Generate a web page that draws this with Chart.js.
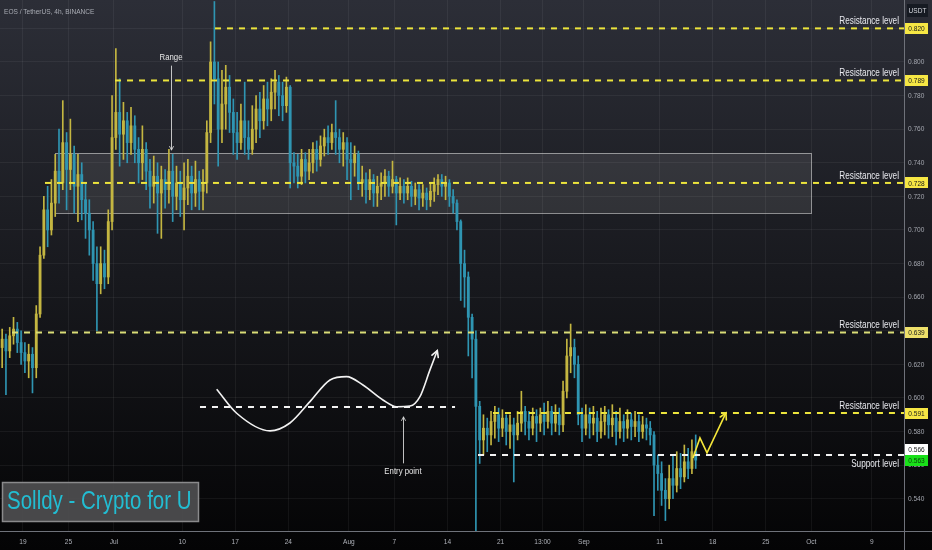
<!DOCTYPE html>
<html>
<head>
<meta charset="utf-8">
<script src="https://cdn.jsdelivr.net/npm/chart.js@4.4.0/dist/chart.umd.min.js"></script>
<style>
html, body { margin: 0; padding: 0; background: #000; overflow: hidden; }
canvas { display: block; }
</style>
</head>
<body>
<canvas id="meuGrafico" width="932" height="550"></canvas>
<script>
// Velas de 12h, dia 0 = 19 Jun
const inicioDia = -3;
const passoDia = 0.5;
const aberturaInicial = 0.630;

const fechamentos = [
  0.635,0.628,0.637,0.641,0.633,0.627,0.622,0.626,0.618,0.650,
  0.685,0.712,0.700,0.716,0.735,0.728,0.752,0.736,0.745,0.726,
  0.733,0.718,0.710,0.700,0.680,0.668,0.680,0.672,0.705,0.755,
  0.770,0.757,0.765,0.752,0.762,0.748,0.740,0.748,0.735,0.726,
  0.732,0.722,0.730,0.724,0.735,0.720,0.728,0.718,0.725,0.732,
  0.722,0.730,0.723,0.728,0.758,0.800,0.790,0.760,0.775,0.785,
  0.770,0.758,0.752,0.765,0.755,0.748,0.760,0.772,0.765,0.778,
  0.772,0.782,0.788,0.780,0.774,0.785,0.740,0.738,0.732,0.742,
  0.735,0.740,0.748,0.742,0.750,0.755,0.752,0.758,0.755,0.748,
  0.752,0.742,0.740,0.745,0.728,0.730,0.724,0.730,0.722,0.726,
  0.728,0.732,0.726,0.730,0.722,0.726,0.722,0.726,0.720,0.724,
  0.719,0.722,0.718,0.723,0.727,0.730,0.726,0.728,0.720,0.716,
  0.705,0.680,0.672,0.648,0.635,0.595,0.575,0.582,0.578,0.586,
  0.590,0.582,0.588,0.580,0.584,0.578,0.585,0.592,0.586,0.582,
  0.589,0.585,0.590,0.586,0.592,0.585,0.590,0.584,0.604,0.625,
  0.630,0.620,0.590,0.582,0.590,0.585,0.588,0.580,0.586,0.590,
  0.584,0.588,0.580,0.586,0.582,0.587,0.583,0.586,0.580,0.584,
  0.582,0.578,0.560,0.555,0.545,0.540,0.552,0.548,0.558,0.553,
  0.562,0.558,0.568,0.563
];
const maximas = [
  0.641,0.638,0.642,0.648,0.645,0.640,0.633,0.632,0.630,0.655,
  0.690,0.720,0.726,0.730,0.745,0.760,0.777,0.758,0.766,0.750,
  0.745,0.740,0.728,0.718,0.705,0.690,0.690,0.688,0.712,0.780,
  0.808,0.790,0.776,0.770,0.773,0.768,0.755,0.762,0.752,0.742,
  0.744,0.740,0.738,0.736,0.748,0.745,0.738,0.735,0.740,0.742,
  0.738,0.741,0.735,0.736,0.765,0.812,0.836,0.800,0.795,0.798,
  0.792,0.778,0.770,0.775,0.788,0.765,0.774,0.780,0.782,0.786,
  0.788,0.790,0.795,0.792,0.788,0.791,0.786,0.746,0.745,0.748,
  0.746,0.748,0.752,0.753,0.756,0.760,0.762,0.763,0.777,0.760,
  0.758,0.755,0.752,0.750,0.747,0.738,0.734,0.736,0.733,0.732,
  0.734,0.736,0.735,0.741,0.732,0.731,0.730,0.731,0.729,0.728,
  0.727,0.727,0.725,0.728,0.731,0.733,0.733,0.732,0.730,0.724,
  0.718,0.706,0.688,0.675,0.650,0.640,0.598,0.590,0.588,0.592,
  0.595,0.594,0.593,0.590,0.590,0.588,0.592,0.604,0.595,0.592,
  0.594,0.593,0.594,0.597,0.598,0.595,0.596,0.594,0.610,0.635,
  0.644,0.635,0.625,0.594,0.596,0.594,0.595,0.592,0.594,0.595,
  0.593,0.596,0.592,0.594,0.590,0.593,0.591,0.592,0.590,0.589,
  0.588,0.586,0.580,0.566,0.562,0.552,0.560,0.566,0.568,0.567,
  0.572,0.570,0.575,0.578
];
const minimas = [
  0.618,0.602,0.624,0.632,0.627,0.620,0.615,0.612,0.603,0.612,
  0.648,0.683,0.690,0.697,0.708,0.716,0.724,0.712,0.724,0.710,
  0.705,0.706,0.695,0.685,0.670,0.640,0.662,0.665,0.668,0.700,
  0.748,0.738,0.742,0.740,0.745,0.740,0.728,0.730,0.724,0.713,
  0.716,0.698,0.695,0.713,0.716,0.705,0.712,0.708,0.700,0.715,
  0.712,0.714,0.712,0.712,0.722,0.752,0.775,0.738,0.752,0.760,
  0.758,0.745,0.742,0.748,0.745,0.742,0.745,0.752,0.755,0.760,
  0.762,0.765,0.772,0.768,0.765,0.770,0.725,0.728,0.725,0.727,
  0.728,0.730,0.734,0.735,0.738,0.744,0.745,0.748,0.745,0.740,
  0.738,0.730,0.718,0.732,0.724,0.720,0.716,0.718,0.714,0.714,
  0.718,0.720,0.720,0.722,0.703,0.718,0.716,0.718,0.714,0.715,
  0.712,0.714,0.712,0.714,0.717,0.721,0.720,0.718,0.714,0.710,
  0.700,0.658,0.654,0.625,0.612,0.521,0.561,0.566,0.568,0.572,
  0.576,0.574,0.577,0.572,0.570,0.550,0.575,0.580,0.578,0.575,
  0.578,0.574,0.580,0.578,0.582,0.578,0.580,0.578,0.580,0.600,
  0.615,0.612,0.584,0.574,0.578,0.576,0.578,0.574,0.576,0.578,
  0.576,0.577,0.572,0.576,0.574,0.576,0.575,0.577,0.574,0.576,
  0.575,0.572,0.530,0.545,0.536,0.527,0.534,0.540,0.544,0.546,
  0.550,0.552,0.555,0.558
];

// Eixo de tempo (dias desde 19 Jun) e eixo de preço
const diasTicks = [0, 6, 12, 21, 28, 35, 43, 49, 56, 63, 68.54, 74, 84, 91, 98, 104, 112];
const rotulosTicks = ['19', '25', 'Jul', '10', '17', '24', 'Aug', '7', '14', '21', '13:00', 'Sep', '11', '18', '25', 'Oct', '9'];
const precoTicks = [0.540, 0.560, 0.580, 0.600, 0.620, 0.640, 0.660, 0.680, 0.700, 0.720, 0.740, 0.760, 0.780, 0.800, 0.820];
const diaMin = -3.034, diaMax = 116.23;
const precoMin = 0.5208, precoMax = 0.8369;

// Níveis desenhados
const niveisResistencia = [0.820, 0.789, 0.728, 0.639, 0.591];
const inicioResistencia = [25.33, 12.14, 2.90, -1.45, 62.0];
const nivelSuporte = 0.566;
const inicioSuporte = 60.03;
const precoAtual = 0.563;
const nivelEntrada = 0.5946;
const faixaEntrada = [23.35, 57.0];
const rangeDias = [4.22, 103.96];
const rangePrecos = [0.7101, 0.7458];

// Curva branca e seta amarela
const curvaDias = [25.55, 28.19, 32.59, 35.22, 37.86, 40.50, 42.70, 44.85, 47.49, 49.30, 51.06, 52.37, 53.69, 54.66];
const curvaPrecos = [0.6052, 0.5909, 0.5804, 0.5851, 0.5978, 0.6107, 0.6127, 0.6077, 0.5988, 0.5948, 0.5952, 0.6008, 0.6167, 0.6282];
const zigDias = [88.39, 89.31, 90.24, 92.74];
const zigPrecos = [0.5643, 0.5762, 0.5673, 0.5911];

// Setas com texto
const setaRange = { dia: 19.53, de: 0.7976, ate: 0.7476, texto: 0.8030 };
const setaEntrada = { dia: 50.13, de: 0.5613, ate: 0.5887, texto: 0.5560 };

// Fonte estreita: Liberation Sans comprimida na horizontal
const FONTE = "'Liberation Sans', Arial, sans-serif";
const ESTREITO = 0.82;
const ALTA = '#c4b641';
const BAIXA = '#2f95b2';

const aberturas = [aberturaInicial].concat(fechamentos.slice(0, -1));
const centro = i => inicioDia + i * passoDia + passoDia / 2;
const corVela = ctx => fechamentos[ctx.dataIndex] >= aberturas[ctx.dataIndex] ? ALTA : BAIXA;

function texto(c, str, x, y, tam, cor, alinh, base) {
  c.save();
  c.font = tam + 'px ' + FONTE;
  c.fillStyle = cor;
  c.textAlign = alinh || 'left';
  c.textBaseline = base || 'middle';
  c.translate(x, y);
  c.scale(ESTREITO, 1);
  c.fillText(str, 0, 0);
  c.restore();
}

function ponta(c, x0, y0, x1, y1, tam) {
  const a = Math.atan2(y1 - y0, x1 - x0);
  c.beginPath();
  c.moveTo(x1 - tam * Math.cos(a - 0.5), y1 - tam * Math.sin(a - 0.5));
  c.lineTo(x1, y1);
  c.lineTo(x1 - tam * Math.cos(a + 0.5), y1 - tam * Math.sin(a + 0.5));
  c.stroke();
}

// Fundo em degradê + caixa do range
const fundo = {
  id: 'fundo',
  beforeDraw(chart) {
    const c = chart.ctx;
    const g = c.createLinearGradient(0, 0, 0, chart.height);
    g.addColorStop(0, '#2c2e37');
    g.addColorStop(0.5, '#18191e');
    g.addColorStop(1, '#040405');
    c.save();
    c.fillStyle = g;
    c.fillRect(0, 0, chart.width, chart.height);
    c.restore();
  },
  beforeDatasetsDraw(chart) {
    const c = chart.ctx, sx = chart.scales.x, sy = chart.scales.y;
    const x0 = sx.getPixelForValue(rangeDias[0]), x1 = sx.getPixelForValue(rangeDias[1]);
    const y0 = sy.getPixelForValue(rangePrecos[1]), y1 = sy.getPixelForValue(rangePrecos[0]);
    c.save();
    c.fillStyle = 'rgba(255,255,255,0.09)';
    c.fillRect(x0, y0, x1 - x0, y1 - y0);
    c.strokeStyle = 'rgba(215,215,215,0.6)';
    c.lineWidth = 1;
    c.strokeRect(Math.round(x0) + 0.5, Math.round(y0) + 0.5, Math.round(x1 - x0), Math.round(y1 - y0));
    c.restore();
  }
};

// Setas, textos, rótulos dos eixos e etiquetas de preço
const anotacoes = {
  id: 'anotacoes',
  afterDatasetsDraw(chart) {
    const c = chart.ctx, sx = chart.scales.x, sy = chart.scales.y;
    const px = v => sx.getPixelForValue(v), py = v => sy.getPixelForValue(v);
    c.save();
    c.lineCap = 'round';
    // pontas das setas desenhadas
    c.strokeStyle = '#f2f2f2'; c.lineWidth = 1.6;
    let n = curvaDias.length;
    ponta(c, px(curvaDias[n - 2]), py(curvaPrecos[n - 2]), px(curvaDias[n - 1]), py(curvaPrecos[n - 1]), 7);
    c.strokeStyle = '#f4e63a';
    n = zigDias.length;
    ponta(c, px(zigDias[n - 2]), py(zigPrecos[n - 2]), px(zigDias[n - 1]), py(zigPrecos[n - 1]), 7);
    // setas finas
    c.strokeStyle = 'rgba(225,225,225,0.85)'; c.lineWidth = 1;
    [setaRange, setaEntrada].forEach(s => {
      const x = Math.round(px(s.dia)) + 0.5;
      c.beginPath(); c.moveTo(x, py(s.de)); c.lineTo(x, py(s.ate)); c.stroke();
      ponta(c, x, py(s.de), x, py(s.ate), 4);
    });
    c.restore();
    texto(c, 'Range', px(setaRange.dia), py(setaRange.texto), 9.5, '#e6e6e6', 'center');
    texto(c, 'Entry point', px(setaEntrada.dia), py(setaEntrada.texto), 9.5, '#e6e6e6', 'center');
    // textos dos níveis
    const xd = chart.chartArea.right - 5;
    niveisResistencia.forEach(v => texto(c, 'Resistance level', xd, py(v) - 4, 10, '#e8e9ee', 'right', 'alphabetic'));
    texto(c, 'Support level', xd, py(nivelSuporte) + 12, 10, '#e8e9ee', 'right', 'alphabetic');
  },
  afterDraw(chart) {
    const c = chart.ctx, sx = chart.scales.x, sy = chart.scales.y, area = chart.chartArea;
    c.save();
    // separadores dos eixos
    c.strokeStyle = '#6f727a'; c.lineWidth = 1;
    c.beginPath();
    c.moveTo(area.right + 0.5, 0); c.lineTo(area.right + 0.5, chart.height);
    c.moveTo(0, area.bottom + 0.5); c.lineTo(chart.width, area.bottom + 0.5);
    c.stroke();
    c.restore();
    // rótulos dos eixos, nas posições das escalas
    sx.ticks.forEach((t, i) => texto(c, rotulosTicks[i], sx.getPixelForValue(t.value), area.bottom + 10.5, 8, '#b0b3ba', 'center'));
    sy.ticks.forEach(t => texto(c, t.value.toFixed(3), area.right + 4, sy.getPixelForValue(t.value), 8, '#a3a6ae', 'left'));
    // etiquetas no eixo de preço
    const etiqueta = (yc, str, cor, corTexto) => {
      c.fillStyle = cor;
      c.fillRect(area.right + 1, Math.round(yc - 5.5), 23, 11);
      texto(c, str, area.right + 12.5, yc + 0.5, 8, corTexto, 'center');
    };
    niveisResistencia.forEach((v, k) => etiqueta(sy.getPixelForValue(v), v.toFixed(3), k === 3 ? '#eee06a' : '#f6e744', '#1a1a1a'));
    const yAtual = sy.getPixelForValue(precoAtual);
    etiqueta(yAtual, precoAtual.toFixed(3), '#19e019', '#0b3d0b');
    etiqueta(yAtual - 11, nivelSuporte.toFixed(3), '#ffffff', '#1a1a1a');
    // USDT
    c.fillStyle = '#161a22';
    c.fillRect(907, 4, 21, 13);
    texto(c, 'USDT', 917.5, 10.5, 8, '#d6d8de', 'center');
    // título
    texto(c, 'EOS / TetherUS, 4h, BINANCE', 4, 11.5, 8, '#a9acb4', 'left');
    // marca d'água
    c.save();
    c.fillStyle = 'rgba(78,78,80,0.92)';
    c.fillRect(2, 482, 197, 40);
    c.strokeStyle = '#8a8a8c'; c.lineWidth = 1.5;
    c.strokeRect(2.5, 482.5, 196, 39);
    c.restore();
    texto(c, 'Solldy - Crypto for U', 7, 502.5, 25, '#22bdd2', 'left');
  }
};

function criarGrafico() {
  const ctx = document.getElementById('meuGrafico').getContext('2d');

  const pavios = fechamentos.map((f, i) => ({ x: centro(i), y: [minimas[i], maximas[i]] }));
  const corpos = fechamentos.map((f, i) => ({ x: centro(i), y: [aberturas[i], f] }));

  const tracejado = (dados, cor) => ({
    type: 'line', data: dados, borderColor: cor, borderWidth: 2, borderDash: [6, 6],
    pointRadius: 0, fill: false, order: 1
  });

  const linhas = niveisResistencia.map((v, k) =>
    tracejado([{ x: inicioResistencia[k], y: v }, { x: diaMax, y: v }], k === 3 ? '#dadd78' : '#ece43c'));
  linhas.push(tracejado([{ x: inicioSuporte, y: nivelSuporte }, { x: diaMax, y: nivelSuporte }], '#f2f2f2'));
  linhas.push(tracejado([{ x: faixaEntrada[0], y: nivelEntrada }, { x: faixaEntrada[1], y: nivelEntrada }], '#f2f2f2'));

  new Chart(ctx, {
    type: 'bar',
    data: {
      datasets: [
        {
          type: 'line', data: curvaDias.map((d, i) => ({ x: d, y: curvaPrecos[i] })),
          borderColor: '#f2f2f2', borderWidth: 1.6, cubicInterpolationMode: 'monotone',
          pointRadius: 0, fill: false, order: 0
        },
        {
          type: 'line', data: zigDias.map((d, i) => ({ x: d, y: zigPrecos[i] })),
          borderColor: '#f4e63a', borderWidth: 1.6, tension: 0,
          pointRadius: 0, fill: false, order: 0
        },
        ...linhas,
        {
          type: 'bar', data: corpos, backgroundColor: corVela, borderWidth: 0,
          barThickness: 2.2, minBarLength: 1, grouped: false, order: 4
        },
        {
          type: 'bar', data: pavios, backgroundColor: corVela, borderWidth: 0,
          barThickness: 1, grouped: false, order: 5
        }
      ]
    },
    options: {
      responsive: false,
      animation: false,
      layout: { padding: 0 },
      plugins: { legend: { display: false }, tooltip: { enabled: false } },
      scales: {
        x: {
          type: 'linear', min: diaMin, max: diaMax, offset: false,
          grid: { color: 'rgba(255,255,255,0.055)', drawTicks: false, offset: false },
          border: { display: false },
          ticks: { display: false, autoSkip: false },
          afterBuildTicks: s => { s.ticks = diasTicks.map(v => ({ value: v })); },
          afterFit: s => { s.height = 19; s.paddingLeft = 0; s.paddingRight = 0; }
        },
        y: {
          position: 'right', min: precoMin, max: precoMax,
          grid: { color: 'rgba(255,255,255,0.055)', drawTicks: false },
          border: { display: false },
          ticks: { display: false },
          afterBuildTicks: s => { s.ticks = precoTicks.map(v => ({ value: v })); },
          afterFit: s => { s.width = 28; s.paddingTop = 0; s.paddingBottom = 0; }
        }
      }
    },
    plugins: [fundo, anotacoes]
  });
}

criarGrafico();
</script>
</body>
</html>
